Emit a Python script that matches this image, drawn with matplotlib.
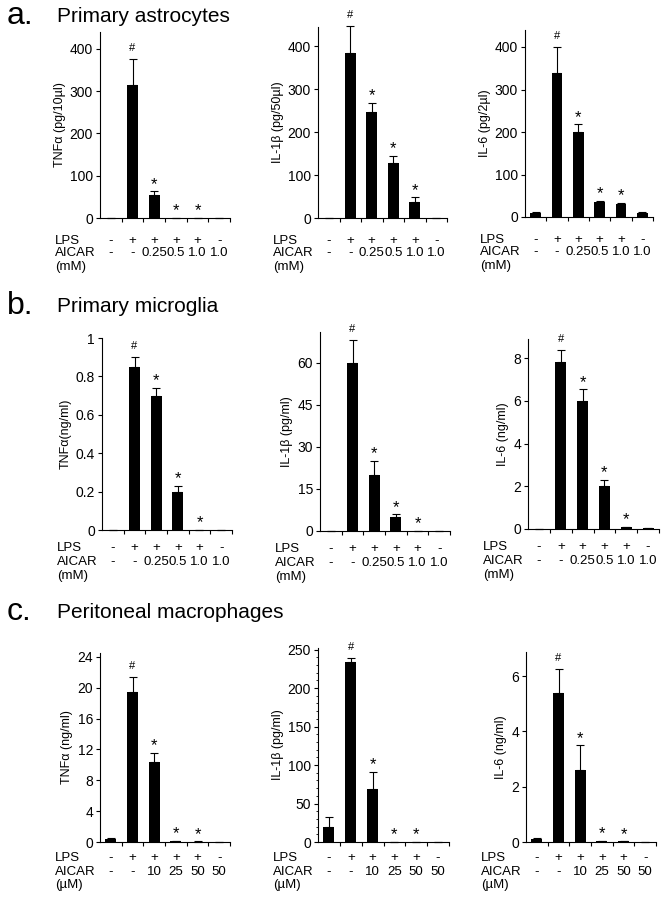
import matplotlib
matplotlib.use("Agg")
import matplotlib.pyplot as plt
from matplotlib.ticker import MultipleLocator

plt.rcParams['font.family'] = ['Liberation Sans', 'DejaVu Sans']
plt.rcParams['axes.linewidth'] = 0.8

W, H = 665, 899

lps = ['-', '+', '+', '+', '+', '-']
aicar_mM = ['-', '-', '0.25', '0.5', '1.0', '1.0']
aicar_uM = ['-', '-', '10', '25', '50', '50']
marks = ['', '#', '*', '*', '*', '']

# a. primary astrocytes
astro_tnf = [0, 315, 55, 0, 0, 0]
astro_tnf_err = [0, 60, 8, 0, 0, 0]
astro_il1 = [0, 385, 248, 127, 38, 0]
astro_il1_err = [0, 62, 20, 18, 10, 0]
astro_il6 = [10, 340, 200, 35, 30, 10]
astro_il6_err = [1, 60, 18, 3, 3, 2]

# b. primary microglia
micro_tnf = [0, 0.85, 0.70, 0.20, 0, 0]
micro_tnf_err = [0, 0.05, 0.04, 0.03, 0, 0]
micro_il1 = [0, 60, 20, 5, 0, 0]
micro_il1_err = [0, 8, 5, 1, 0, 0]
micro_il6 = [0.02, 7.8, 6.0, 2.0, 0.08, 0.03]
micro_il6_err = [0, 0.6, 0.55, 0.3, 0.02, 0]

# c. peritoneal macrophages
macro_tnf = [0.4, 19.5, 10.4, 0.12, 0.06, 0.03]
macro_tnf_err = [0.1, 1.9, 1.2, 0.05, 0.03, 0]
macro_il1 = [20, 234, 69, 0, 0, 0]
macro_il1_err = [13, 5, 22, 0, 0, 0]
macro_il6 = [0.1, 5.4, 2.6, 0.03, 0.02, 0.01]
macro_il6_err = [0.03, 0.85, 0.9, 0.01, 0.01, 0]

row_titles = ['Primary astrocytes', 'Primary microglia', 'Peritoneal macrophages']
row_letters = ['a.', 'b.', 'c.']
row_title_y = [16, 306, 612]
table_offsets = [(23, 35, 49), (18, 32, 46), (16, 30, 43)]

# (values, errors, ylabel, yticks, tick labels, ymax, box in px: left, zero, right, top)
panels = [
    [
        (astro_tnf, astro_tnf_err, 'TNF\u03b1 (pg/10\u00b5l)', [0, 100, 200, 300, 400], None, 440, (100, 218, 230, 32)),
        (astro_il1, astro_il1_err, 'IL-1\u03b2 (pg/50\u00b5l)', [0, 100, 200, 300, 400], None, 445, (318, 218, 447, 27)),
        (astro_il6, astro_il6_err, 'IL-6 (pg/2\u00b5l)', [0, 100, 200, 300, 400], None, 440, (525, 217, 653, 30)),
    ],
    [
        (micro_tnf, micro_tnf_err, 'TNF\u03b1(ng/ml)', [0, 0.2, 0.4, 0.6, 0.8, 1.0], ['0', '0.2', '0.4', '0.6', '0.8', '1'], 1.0, (102, 530, 232, 338)),
        (micro_il1, micro_il1_err, 'IL-1\u03b2 (pg/ml)', [0, 15, 30, 45, 60], None, 71, (320, 531, 450, 332)),
        (micro_il6, micro_il6_err, 'IL-6 (ng/ml)', [0, 2, 4, 6, 8], None, 8.9, (528, 529, 659, 339)),
    ],
    [
        (macro_tnf, macro_tnf_err, 'TNF\u03b1 (ng/ml)', [0, 4, 8, 12, 16, 20, 24], None, 24.5, (100, 842, 230, 653)),
        (macro_il1, macro_il1_err, 'IL-1\u03b2 (pg/ml)', [0, 50, 100, 150, 200, 250], None, 252, (318, 842, 449, 648)),
        (macro_il6, macro_il6_err, 'IL-6 (ng/ml)', [0, 2, 4, 6], None, 6.87, (526, 842, 656, 652)),
    ],
]

fig = plt.figure(figsize=(W / 100, H / 100), dpi=100)

for r, row in enumerate(panels):
    fig.text(7 / W, 1 - row_title_y[r] / H, row_letters[r], fontsize=23, va='center', ha='left')
    fig.text(57 / W, 1 - row_title_y[r] / H, row_titles[r], fontsize=15, va='center', ha='left')
    doses = aicar_uM if r == 2 else aicar_mM
    unit = '(\u00b5M)' if r == 2 else '(mM)'
    for c, (vals, errs, ylab, yt, ytl, ymax, box) in enumerate(row):
        left, zero, right, top = box
        ax = fig.add_axes([left / W, 1 - zero / H, (right - left) / W, (zero - top) / H])
        x = list(range(len(vals)))
        ax.bar(x, vals, width=0.5, color='black', zorder=2)
        ax.errorbar(x, vals, yerr=[[0] * len(vals), errs], fmt='none', ecolor='black',
                    elinewidth=0.8, capsize=3, capthick=0.8, zorder=3, clip_on=False)
        for i, m in enumerate(marks):
            if not m:
                continue
            fs = 8 if m == '#' else 12
            dy = 11 if m == '#' else 7
            ax.annotate(m, xy=(i, vals[i] + errs[i]), xytext=(0, dy), textcoords='offset pixels',
                        ha='center', va='center', fontsize=fs, annotation_clip=False)
        ax.set_xlim(-0.5, 5.5)
        ax.set_ylim(0, ymax)
        ax.set_yticks(yt)
        if ytl:
            ax.set_yticklabels(ytl)
        ax.set_xticks([i + 0.5 for i in x])
        ax.set_xticklabels([])
        ax.tick_params(axis='y', direction='out', length=3, width=0.8, labelsize=10, pad=2)
        ax.tick_params(axis='x', direction='out', length=3, width=0.8)
        if r == 2 and c == 1:
            ax.yaxis.set_minor_locator(MultipleLocator(10))
            ax.tick_params(axis='y', which='minor', length=1.5, width=0.6)
        for s in ['top', 'right']:
            ax.spines[s].set_visible(False)
        ax.set_ylabel(ylab, fontsize=9, labelpad=3)

        off = table_offsets[r]
        for row_vals, dy in ((lps, off[0]), (doses, off[1])):
            for i, v in enumerate(row_vals):
                ax.annotate(v, xy=(i, 0), xycoords=('data', 'axes fraction'), xytext=(0, -dy),
                            textcoords='offset pixels', ha='center', va='center', fontsize=9.5)
        for txt, dy in (('LPS', off[0]), ('AICAR', off[1]), (unit, off[2])):
            fig.text((left - 45) / W, 1 - (zero + dy) / H, txt, fontsize=9.5, ha='left', va='center')

fig.savefig('out.png', dpi=100)
